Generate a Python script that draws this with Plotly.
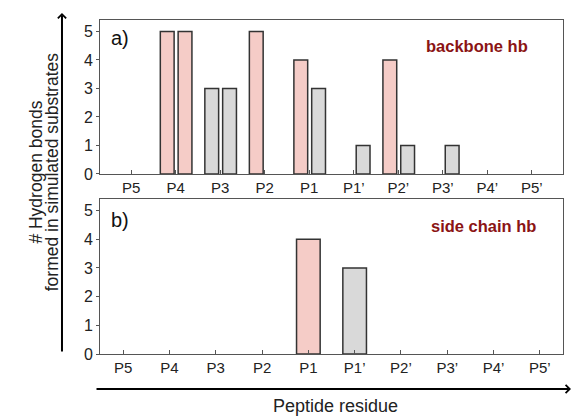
import plotly.graph_objects as go

categories = ["P5", "P4", "P3", "P2", "P1", "P1\u2019", "P2\u2019", "P3\u2019", "P4\u2019", "P5\u2019"]

# panel a) backbone hb : two bars per residue (left / right)
backbone_left = [0, 5, 3, 5, 4, 0, 4, 0, 0, 0]
backbone_left_kind = ["", "pink", "gray", "pink", "pink", "", "pink", "", "", ""]
backbone_right = [0, 5, 3, 0, 3, 1, 1, 1, 0, 0]
backbone_right_kind = ["", "pink", "gray", "", "gray", "gray", "gray", "gray", "", ""]

# panel b) side chain hb : single bar per residue
sidechain = [0, 0, 0, 0, 4, 3, 0, 0, 0, 0]
sidechain_kind = ["", "", "", "", "pink", "gray", "", "", "", ""]

y_ticks = [0, 1, 2, 3, 4, 5]

COLORS = {"pink": "#F5CCC7", "gray": "#D9D9D9"}
FONT = "Liberation Sans, Arial, Helvetica, sans-serif"


def pick(vals, kinds):
    xs, ys, cs = [], [], []
    for c, v, k in zip(categories, vals, kinds):
        if v > 0:
            xs.append(c)
            ys.append(v)
            cs.append(COLORS[k])
    return xs, ys, cs


fig = go.Figure()
line = dict(color="#333333", width=1.5)

x, y, c = pick(backbone_left, backbone_left_kind)
fig.add_trace(go.Bar(x=x, y=y, marker=dict(color=c, line=line), width=0.31, offset=-0.345,
                     xaxis="x", yaxis="y", showlegend=False))
x, y, c = pick(backbone_right, backbone_right_kind)
fig.add_trace(go.Bar(x=x, y=y, marker=dict(color=c, line=line), width=0.31, offset=0.055,
                     xaxis="x", yaxis="y", showlegend=False))
x, y, c = pick(sidechain, sidechain_kind)
fig.add_trace(go.Bar(x=x, y=y, marker=dict(color=c, line=line), width=0.51,
                     xaxis="x2", yaxis="y2", showlegend=False))

xa = dict(type="category", categoryorder="array", categoryarray=categories,
          showline=True, linecolor="#555555", linewidth=1, mirror=True,
          ticks="inside", ticklen=4, tickcolor="#555555", showgrid=False, zeroline=False,
          tickfont=dict(family=FONT, size=15, color="#222222"))
ya = dict(range=[0, 5.4], tickvals=y_ticks, showline=True, linecolor="#555555", linewidth=1,
          mirror=True, ticks="outside", ticklen=3, tickcolor="#555555", showgrid=False,
          zeroline=False, tickfont=dict(family=FONT, size=16, color="#222222"))

fig.update_layout(
    width=572, height=418,
    margin=dict(l=100, r=9, t=20, b=64),
    paper_bgcolor="white", plot_bgcolor="white",
    barmode="overlay",
    xaxis=dict(xa, domain=[0, 1], anchor="y", range=[-0.7, 9.7]),
    yaxis=dict(ya, domain=[0.539, 1], anchor="x"),
    xaxis2=dict(xa, domain=[0, 1], anchor="y2", range=[-0.5, 9.5]),
    yaxis2=dict(ya, domain=[0, 0.464], anchor="x2"),
)

ann = []
ann.append(dict(xref="paper", yref="paper", x=0.0194, y=0.946, xanchor="left", yanchor="middle",
                text="a)", showarrow=False, font=dict(family=FONT, size=20, color="#111111")))
ann.append(dict(xref="paper", yref="paper", x=0.0194, y=0.401, xanchor="left", yanchor="middle",
                text="b)", showarrow=False, font=dict(family=FONT, size=20, color="#111111")))
ann.append(dict(xref="paper", yref="paper", x=0.9287, y=0.923, xanchor="right", yanchor="middle",
                text="<b>backbone hb</b>", showarrow=False, font=dict(family=FONT, size=16.5, color="#8B1414")))
ann.append(dict(xref="paper", yref="paper", x=0.946, y=0.384, xanchor="right", yanchor="middle",
                text="<b>side chain hb</b>", showarrow=False, font=dict(family=FONT, size=16.5, color="#8B1414")))
ann.append(dict(xref="paper", yref="paper", x=-0.139, y=0.545, xanchor="center", yanchor="middle",
                text="# Hydrogen bonds", textangle=-90, showarrow=False,
                font=dict(family=FONT, size=17.5, color="#222222")))
ann.append(dict(xref="paper", yref="paper", x=-0.103, y=0.545, xanchor="center", yanchor="middle",
                text="formed in simulated substrates", textangle=-90, showarrow=False,
                font=dict(family=FONT, size=17.5, color="#222222")))
ann.append(dict(xref="paper", yref="paper", x=0.5097, y=-0.155, xanchor="center", yanchor="middle",
                text="Peptide residue", showarrow=False,
                font=dict(family=FONT, size=18, color="#222222")))
# axis arrows
ann.append(dict(xref="paper", yref="paper", x=-0.0821, y=1.021, ax=0, ay=340, text="",
                showarrow=True, arrowhead=4, arrowsize=0.8, arrowwidth=2, arrowcolor="#000000",
                standoff=0, startstandoff=0))
ann.append(dict(xref="paper", yref="paper", x=1.0173, y=-0.1048, ax=-476, ay=0, text="",
                showarrow=True, arrowhead=4, arrowsize=0.8, arrowwidth=2, arrowcolor="#000000",
                standoff=0, startstandoff=0))
fig.update_layout(annotations=ann)

fig.write_html("out.html", config={"displayModeBar": False},
               post_script="document.body.style.margin='0';")
